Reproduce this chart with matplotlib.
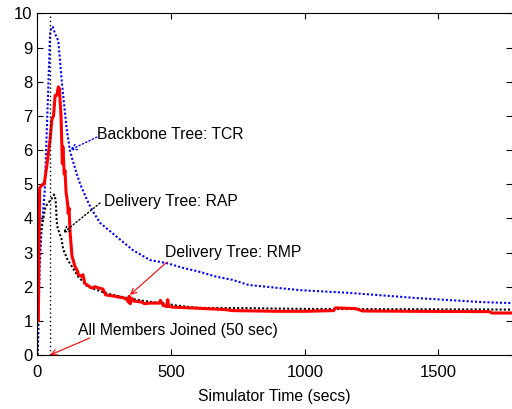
import matplotlib
matplotlib.use("Agg")
import matplotlib.pyplot as plt

plt.rcParams['font.family'] = ['Liberation Sans', 'DejaVu Sans']

# Backbone Tree: TCR (blue dotted)
tcr_t = [0, 3, 8, 15, 27, 39, 47, 52, 58, 66, 78, 91, 108, 121, 128, 147, 160, 185, 200,
         234, 297, 357, 421, 484, 545, 600, 671, 730, 790, 855, 980, 1165, 1415, 1660, 1775]
tcr_v = [0, 0.5, 2.5, 3.6, 4.8, 7.5, 9.4, 9.6, 9.6, 9.4, 9.2, 8.0, 6.7, 6.0, 5.8, 5.3, 5.0, 4.55, 4.3,
         3.87, 3.46, 3.07, 2.78, 2.69, 2.55, 2.45, 2.29, 2.2, 2.05, 2.0, 1.9, 1.82, 1.67, 1.55, 1.52]

# Delivery Tree: RAP (black dotted)
rap_t = [0, 3, 12, 30, 55, 62, 68, 72, 76, 90, 96, 112, 128, 152, 188, 260, 330, 400, 480,
         520, 600, 800, 1000, 1400, 1775]
rap_v = [0, 2.3, 3.6, 4.35, 4.6, 4.7, 4.55, 3.9, 3.7, 3.4, 3.1, 2.8, 2.6, 2.3, 2.0, 1.8, 1.68, 1.58, 1.5,
         1.45, 1.38, 1.37, 1.35, 1.34, 1.33]

# Delivery Tree: RMP (red solid)
rmp_t = [0, 3, 8, 20, 25, 36, 47, 54, 60, 66, 72, 78, 82, 88, 91, 93, 95, 100, 103, 107, 110, 113,
         115, 118, 122, 129, 140, 150, 153, 166, 170, 177, 195, 205, 215, 230, 245, 255, 290, 300,
         320, 335, 340, 343, 347, 352, 360, 390, 400, 420, 455, 460, 470, 483, 487, 491, 510, 600,
         700, 730, 900, 1000, 1108, 1115, 1190, 1215, 1400, 1690, 1700, 1775]
rmp_v = [1.0, 1.0, 4.9, 5.0, 5.0, 5.6, 6.3, 6.9, 7.0, 7.6, 7.6, 7.85, 7.8, 7.0, 6.2, 5.6, 6.1, 5.3,
         5.4, 4.75, 4.6, 4.4, 4.15, 4.3, 3.6, 2.9, 2.6, 2.45, 2.35, 2.3, 2.35, 2.1, 2.0, 1.96, 2.0,
         1.96, 1.93, 1.76, 1.72, 1.70, 1.68, 1.62, 1.55, 1.72, 1.5, 1.66, 1.58, 1.55, 1.5, 1.52, 1.52,
         1.6, 1.45, 1.42, 1.62, 1.42, 1.40, 1.37, 1.33, 1.30, 1.28, 1.28, 1.30, 1.38, 1.36, 1.29,
         1.28, 1.27, 1.23, 1.23]

join_time = 45

fig = plt.figure(figsize=(5.12, 4.09), dpi=100)
ax = fig.add_axes([0.0732, 0.132, 0.9268, 0.835])

ax.plot(tcr_t, tcr_v, color='#0000ff', linestyle=(0, (1, 1)), linewidth=1.5)
ax.plot(rap_t, rap_v, color='black', linestyle=(0, (1, 1)), linewidth=1.5)
ax.plot(rmp_t, rmp_v, color='#ff0000', linewidth=2.2)
ax.axvline(join_time, color='black', linestyle=(0, (1, 2)), linewidth=1)

fs = 11.3
# annotations
ax.annotate('', xy=(121, 6.0), xytext=(222, 6.38),
            arrowprops=dict(arrowstyle='->', color='#0000ff', linestyle=':', lw=1, shrinkA=0, shrinkB=0))
ax.text(222, 6.45, 'Backbone Tree: TCR', fontsize=fs, va='center', ha='left')

ax.annotate('', xy=(95, 3.57), xytext=(234, 4.45),
            arrowprops=dict(arrowstyle='->', color='black', linestyle=':', lw=1, shrinkA=0, shrinkB=0))
ax.text(250, 4.5, 'Delivery Tree: RAP', fontsize=fs, va='center', ha='left')

ax.annotate('', xy=(346, 1.76), xytext=(484, 2.72),
            arrowprops=dict(arrowstyle='->', color='#ff0000', lw=0.8, shrinkA=0, shrinkB=0))
ax.text(478, 2.99, 'Delivery Tree: RMP', fontsize=fs, va='center', ha='left')

ax.annotate('', xy=(47, 0.0), xytext=(196, 0.5),
            arrowprops=dict(arrowstyle='->', color='#ff0000', lw=0.8, shrinkA=0, shrinkB=0))
ax.text(150, 0.73, 'All Members Joined (50 sec)', fontsize=fs, va='center', ha='left')

ax.set_xlim(0, 1775)
ax.set_ylim(0, 10)
ax.set_xticks([0, 500, 1000, 1500])
ax.set_yticks(range(0, 11))
ax.tick_params(direction='in', top=True, right=True, length=4, labelsize=12)
ax.tick_params(axis='x', pad=7)
ax.set_xlabel('Simulator Time (secs)', fontsize=fs, labelpad=7)
ax.spines['right'].set_visible(False)

fig.savefig('out.png', dpi=100)
